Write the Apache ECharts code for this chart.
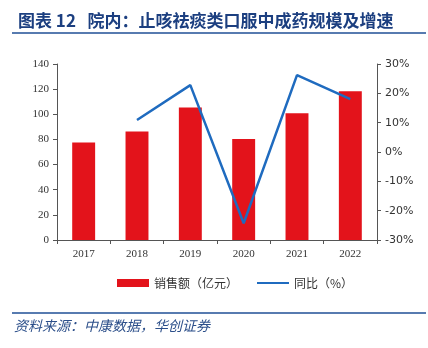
<!DOCTYPE html>
<html><head><meta charset="utf-8">
<script src="https://cdn.jsdelivr.net/npm/echarts@6/dist/echarts.min.js"></script>
<style>html,body{margin:0;padding:0;background:#fff}#c{width:428px;height:348px}</style>
</head><body><div id="c"></div>
<script>
const categories = ['2017','2018','2019','2020','2021','2022'];
const salesValues = [77.5, 86.3, 105.3, 80.3, 100.8, 118.3];
const growthValues = [null, 10.9, 22.8, -24.3, 26.2, 18.0];
const leftTicks = {min:0, max:140, interval:20};
const rightTicks = {min:-30, max:30, interval:10};

const chart = echarts.init(document.getElementById('c'), null, {renderer:'canvas'});
const blue = '#1c3f80';
chart.setOption({
  animation:false,
  backgroundColor:'#fff',
  title:{
    text:'图表 12   院内：止咳祛痰类口服中成药规模及增速',
    left:13, top:7,
    textStyle:{fontSize:17, fontWeight:'bold', color:blue, fontFamily:'Noto Sans CJK SC'}
  },
  graphic:[
    {type:'line', shape:{x1:12,y1:33,x2:426,y2:33}, style:{stroke:'#1f4f96', lineWidth:1.5}},
    {type:'line', shape:{x1:12,y1:313,x2:426,y2:313}, style:{stroke:'#1f4f96', lineWidth:1.5}},
    {type:'text', left:14, top:319, style:{text:'资料来源：中康数据，华创证券', fill:'#2c4f8a', font:'italic 14px "Noto Sans CJK SC"'}}
  ],
  legend:{
    top:272, left:112, itemGap:18, itemWidth:32, itemHeight:8,
    textStyle:{fontSize:12, color:'#333', fontFamily:'Noto Sans CJK SC'},
    data:[{name:'销售额（亿元）', icon:'rect'},{name:'同比（%）', itemStyle:{opacity:0}}]
  },
  grid:{left:57, right:51, top:64, bottom:108},
  xAxis:{
    type:'category', data:categories,
    axisLine:{lineStyle:{color:'#555'}},
    axisTick:{show:true, alignWithLabel:false, length:4, lineStyle:{color:'#555'}},
    axisLabel:{color:'#333', fontSize:11, fontFamily:'Liberation Serif', margin:9}
  },
  yAxis:[
    {type:'value', min:leftTicks.min, max:leftTicks.max, interval:leftTicks.interval,
     splitLine:{show:false},
     axisLine:{show:true, lineStyle:{color:'#555'}},
     axisTick:{show:true, length:4, lineStyle:{color:'#555'}},
     axisLabel:{color:'#333', fontSize:11, fontFamily:'Liberation Serif', margin:8}},
    {type:'value', min:rightTicks.min, max:rightTicks.max, interval:rightTicks.interval,
     splitLine:{show:false},
     axisLine:{show:true, lineStyle:{color:'#555'}},
     axisTick:{show:true, length:4, lineStyle:{color:'#555'}},
     axisLabel:{color:'#333', fontSize:11, fontFamily:'DejaVu Sans', margin:8, formatter:'{value}%'}}
  ],
  series:[
    {name:'销售额（亿元）', type:'bar', data:salesValues, barWidth:'43%',
     itemStyle:{color:'#e3131b'}},
    {name:'同比（%）', type:'line', yAxisIndex:1, data:growthValues, symbol:'none',
     lineStyle:{color:'#1f6bbf', width:2.5}, itemStyle:{color:'#1f6bbf'}, connectNulls:false}
  ]
});
</script></body></html>
